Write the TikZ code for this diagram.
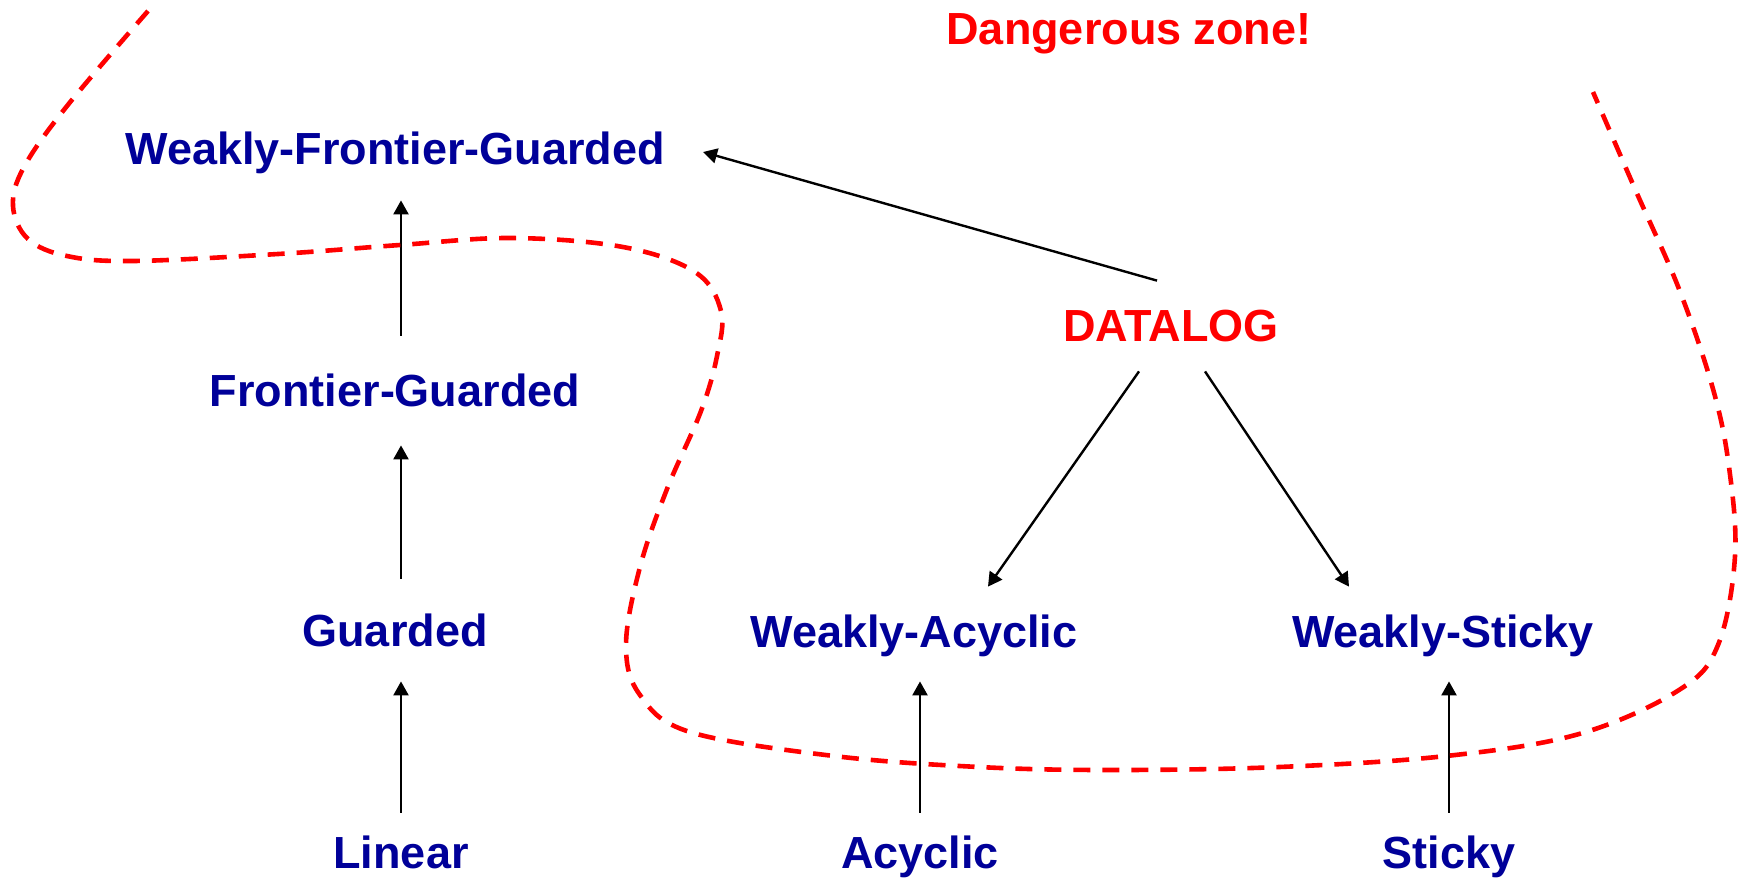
\documentclass[tikz,border=0pt]{standalone}
\usepackage{fontspec}
\setmainfont{Liberation Sans}
\usetikzlibrary{arrows.meta,calc}
\definecolor{classblue}{RGB}{0,0,153}
\definecolor{zonered}{RGB}{255,0,0}
\begin{document}
\begin{tikzpicture}[x=0.5pt,y=-0.5pt,
  lang/.style={font=\bfseries\fontsize{22.5}{27}\selectfont, text=classblue,
    inner sep=0pt, text height=16pt, text depth=0pt, anchor=center},
  hot/.style={lang, text=zonered},
  arr/.style={draw=black, line width=1.2pt, -{Triangle[length=7pt,width=7.5pt]}},
  zone/.style={draw=zonered, line width=2.3pt, dash pattern=on 8.5pt off 6pt}]
\useasboundingbox (0,0) rectangle (1744,879);

% class names
\node[lang] (wfg) at (395,148) {Weakly-Frontier-Guarded};
\node[lang] (fg)  at (395,390) {Frontier-Guarded};
\node[lang] (g)   at (395,630) {Guarded};
\node[lang] (lin) at (401,852) {Linear};
\node[hot]  (dl)  at (1171,325) {DATALOG};
\node[lang] (wa)  at (914,631) {Weakly-Acyclic};
\node[lang] (ws)  at (1443,631) {Weakly-Sticky};
\node[lang] (ac)  at (920,852) {Acyclic};
\node[lang] (st)  at (1449,852) {Sticky};
\node[hot]  (dz)  at (1129,28) {Dangerous zone!};

% inclusions
\draw[arr, shorten <=19pt, shorten >=18pt] (fg.north -| lin) -- (wfg.south -| lin);
\draw[arr, shorten <=17.5pt, shorten >=19.5pt] (g.north -| lin) -- (fg.south -| lin);
\draw[arr, shorten <=11.5pt, shorten >=17.5pt] (lin.north) -- (g.south -| lin);
\draw[arr, shorten <=11.5pt, shorten >=17pt] (ac.north) -- (wa.south -| ac);
\draw[arr, shorten <=11.5pt, shorten >=17pt] (st.north) -- (ws.south -| st);
\draw[arr] ($(dl.north)+(-14,-28)$) -- ($(wfg.east)+(38,4)$);
\draw[arr] ($(dl.south)+(-32,30)$) -- ($(wa.north)+(74,-28)$);
\draw[arr] ($(dl.south)+(34,30)$) -- ($(ws.north)+(-94,-28)$);

% boundary of the dangerous zone
\draw[zone] plot[smooth, tension=0.6] coordinates {
  (148,11) (67,106) (24,167) (13,206) (28,239) (67,256) (133,261)
  (278,254) (400,245) (512,238) (623,247) (695,272) (721,311) (717,356)
  (701,411) (667,489) (640,567) (626,645) (640,695) (690,732) (834,756)
  (979,767) (1112,770) (1279,767) (1446,756) (1579,734) (1679,690)
  (1718,645) (1735,556) (1729,467) (1713,389) (1679,289) (1635,189) (1593,92)};
\end{tikzpicture}
\end{document}
